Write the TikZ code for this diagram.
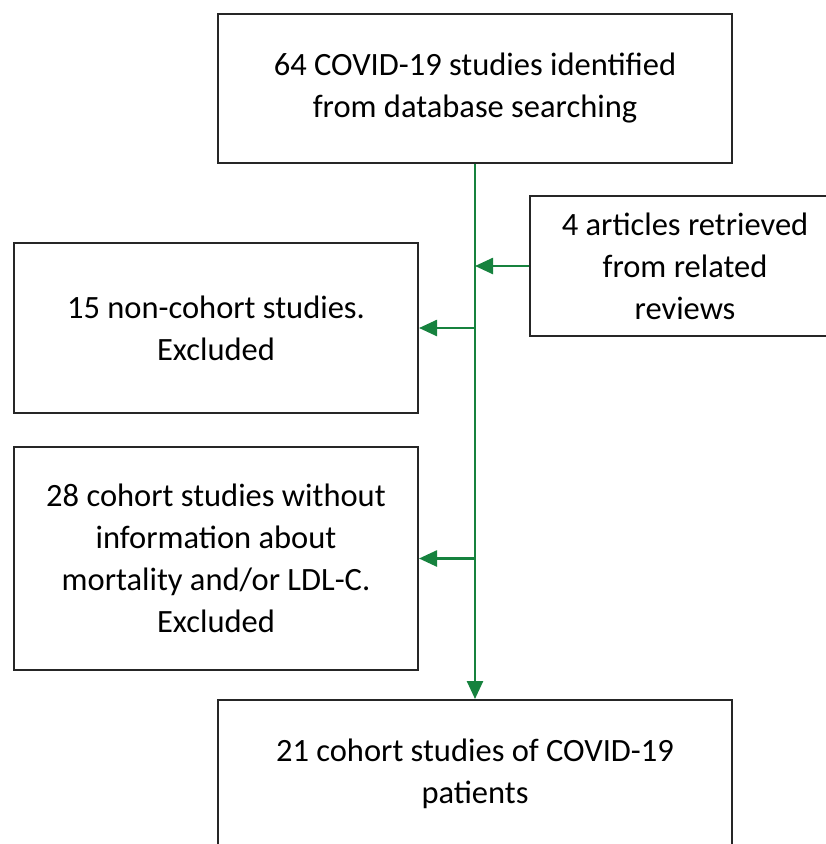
\documentclass[tikz,border=0pt]{standalone}
\usepackage{fontspec}
\setmainfont{Carlito}
\usepackage{xcolor}
\usetikzlibrary{arrows.meta}
\definecolor{flowgreen}{RGB}{22,130,62}

\begin{document}
\begin{tikzpicture}[x=1pt, y=-1pt,
    box/.style={draw=black!85, line width=2pt, rectangle, align=center,
      font=\fontsize{32.5}{42}\selectfont, inner sep=0pt},
    flow/.style={draw=flowgreen, line width=2.5pt,
      -{Triangle[length=18pt, width=16pt]}}]
  \clip (0,0) rectangle (826,844);
  \useasboundingbox (0,0) rectangle (826,844);
  \node (search) [box, minimum width=514pt, minimum height=149pt] at (475,88.5)
    {64 COVID-19 studies identified\\from database searching};
  \node (related) [box, minimum width=310pt, minimum height=140pt] at (685,266)
    {4 articles retrieved\\from related\\reviews};
  \node (noncohort) [box, minimum width=404pt, minimum height=170pt] at (216,328)
    {15 non-cohort studies.\\Excluded};
  \node (noinfo) [box, minimum width=404pt, minimum height=223pt] at (216,558.5)
    {28 cohort studies without\\information about\\mortality and/or LDL-C.\\Excluded};
  \node (included) [box, minimum width=514pt, minimum height=148pt] at (475,774)
    {21 cohort studies of COVID-19\\patients};

  \draw [flow] (search.south) -- (included.north);
  \draw [flow] (related.west) -- (related.west -| search.south);
  \draw [flow] (noncohort.east -| search.south) -- (noncohort.east);
  \draw [flow] (noinfo.east -| search.south) -- (noinfo.east);
\end{tikzpicture}
\end{document}
